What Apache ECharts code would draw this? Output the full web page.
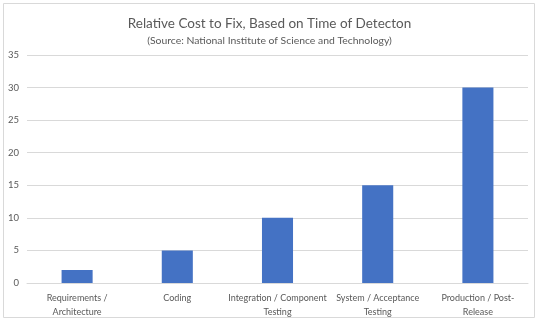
<!DOCTYPE html>
<html><head><meta charset="utf-8">
<script src="https://cdn.jsdelivr.net/npm/echarts@6/dist/echarts.min.js"></script>
<style>html,body{margin:0;padding:0;background:#fff}#c{width:539px;height:322px}</style>
</head><body><div id="c"></div>
<script>
const categories = ["Requirements /\nArchitecture", "Coding", "Integration / Component\nTesting", "System / Acceptance\nTesting", "Production / Post-\nRelease"];
const values = [2, 5, 10, 15, 30];
const titleText = "Relative Cost to Fix, Based on Time of Detecton";
const subtitleText = "(Source: National Institute of Science and Technology)";
const chart = echarts.init(document.getElementById('c'));
const font = "Lato, sans-serif";
chart.setOption({
  animation: false,
  graphic: [{type:'rect', shape:{x:3.5,y:3.5,width:531,height:314}, style:{fill:'none', stroke:'#d9d9d9', lineWidth:1}}],
  title: {
    text: titleText, subtext: subtitleText, left: 'center', top: 12, itemGap: 5,
    textStyle: {fontFamily: font, fontSize: 13.5, fontWeight: 'normal', color: '#595959'},
    subtextStyle: {fontFamily: font, fontSize: 10.4, color: '#595959'}
  },
  grid: {left: 27, right: 11, top: 55, bottom: 39, containLabel: false},
  xAxis: {
    type: 'category', data: categories,
    axisLine: {lineStyle: {color: '#d9d9d9'}}, axisTick: {show: false},
    axisLabel: {interval: 0, fontFamily: font, fontSize: 9, color: '#595959', lineHeight: 14, margin: 8}
  },
  yAxis: {
    type: 'value', min: 0, max: 35, interval: 5,
    axisLine: {show: false}, axisTick: {show: false},
    splitLine: {lineStyle: {color: '#d9d9d9'}},
    axisLabel: {fontFamily: font, fontSize: 9.5, color: '#595959', margin: 8}
  },
  series: [{type: 'bar', data: values, barWidth: '31%', itemStyle: {color: '#4472C4'}}]
});
</script></body></html>
